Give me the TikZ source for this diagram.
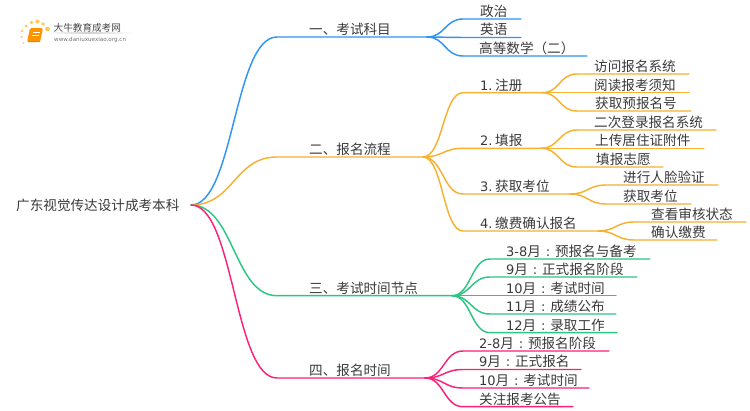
\documentclass[tikz,border=0pt]{standalone}
\usepackage{fontspec}
\setmainfont{Noto Sans CJK SC}
\newfontfamily\latf{DejaVu Sans}
\usetikzlibrary{calc}
\definecolor{cblue}{HTML}{2E94F5}
\definecolor{corange}{HTML}{F8B02F}
\definecolor{cgreen}{HTML}{2CC585}
\definecolor{cpink}{HTML}{FB2079}
\definecolor{ctext}{HTML}{3A3A3A}
\definecolor{cdot}{HTML}{FBCB5A}
\tikzset{
  label text/.style={anchor=base west,inner sep=0pt,text=ctext,font=\fontsize{13.6}{15}\selectfont},
  branch/.style={line width=1.45pt,line cap=round},
  logodot/.style={fill=cdot,draw=none,circle},
}
\newcommand\lat[1]{{\latf\fontsize{13}{15}\selectfont #1}}
\newcommand\num[1]{\lat{#1.}\hspace{2.6pt}}
\newcommand\fc{\makebox[14pt]{\lat{:}}}
% name, line start x, line end x, line y, text x, text
\newcommand\topic[6]{%
  \coordinate (#1-s) at (#2,#4);
  \coordinate (#1-e) at (#3,#4);
  \node[label text] (#1) at (#5,#4-2.6) {#6};
}
% colour, from, to, control offset
\newcommand\link[4]{%
  \draw[branch,#1] (#2-e) .. controls +(#4,0) and ($(#3-s)+(-#4,0)$) .. (#3-s) -- (#3-e);
}
\begin{document}
\begin{tikzpicture}[x=1pt,y=-1pt]
\useasboundingbox (0,0) rectangle (750,410);
\fill[white] (0,0) rectangle (750,410);

% logo
\foreach \a/\b/\r in {23.5/43/0.9,21.5/37/1.1,22/31/1.3,26/26/1.6,31.5/22.5/1.9,37.5/21.5/2.0,43/24/1.9,47.5/29/2.4}{
  \node[logodot,minimum size=\r*2pt,inner sep=0pt] at (\a,\b) {};
}
\fill[orange!85!yellow,rounded corners=1.5pt] (30,28) -- (43,28) -- (40,42) -- (27,42) -- cycle;
\draw[white,line width=.5pt] (33,32) -- (40,32) (32,35) -- (39,35);
\draw[orange!70!brown,line width=.6pt] (28,41) -- (40,41);
\shade[left color=white,right color=white,middle color=black!18] (45,32.8) rectangle (133,33.4);
\node[anchor=base west,inner sep=0pt,text=black!72,font=\fontsize{9.6}{11}\selectfont] (logoa) at (53.5,31) {大牛教育成考网};
\node[anchor=base west,inner sep=0pt,text=black!55,font=\latf\fontsize{5.6}{7}\selectfont] (logob) at (54,41) {www.daniuxuexiao.org.cn};

% root
\node[label text] (root) at (16,210) {广东视觉传达设计成考本科};
\coordinate (root-e) at (191,205);

% level 1
\topic{a}{277}{427}{37}{309}{一、考试科目}
\topic{b}{277}{423}{157}{309}{二、报名流程}
\topic{c}{277}{452}{295.7}{309}{三、考试时间节点}
\topic{d}{277}{425}{378}{309}{四、报名时间}
\link{cblue}{root}{a}{43}
\link{corange}{root}{b}{43}
\link{cgreen}{root}{c}{43}
\link{cpink}{root}{d}{43}

% blue
\topic{a1}{463}{521}{19}{480}{政治}
\topic{a2}{463}{521}{37.5}{480}{英语}
\topic{a3}{463}{587}{56}{479}{高等数学（二）}
\foreach \n in {a1,a2,a3}{\link{cblue}{a}{\n}{18}}

% orange level 2
\topic{b1}{463}{542}{92.7}{480}{\num{1}注册}
\topic{b2}{463}{541}{148.3}{480}{\num{2}填报}
\topic{b3}{463}{570}{194}{480}{\num{3}获取考位}
\topic{b4}{463}{598}{231}{480}{\num{4}缴费确认报名}
\foreach \n in {b1,b2,b3,b4}{\link{corange}{b}{\n}{20}}

\topic{b11}{577}{689}{74}{594}{访问报名系统}
\topic{b12}{577}{689}{92.7}{594}{阅读报考须知}
\topic{b13}{577}{691}{111}{595}{获取预报名号}
\foreach \n in {b11,b12,b13}{\link{corange}{b1}{\n}{18}}

\topic{b21}{577}{716}{130}{594}{二次登录报名系统}
\topic{b22}{577}{704}{148.3}{595}{上传居住证附件}
\topic{b23}{577}{663}{167}{596}{填报志愿}
\foreach \n in {b21,b22,b23}{\link{corange}{b2}{\n}{18}}

\topic{b31}{606}{718}{185}{623}{进行人脸验证}
\topic{b32}{606}{691}{204}{623}{获取考位}
\foreach \n in {b31,b32}{\link{corange}{b3}{\n}{18}}

\topic{b41}{634}{746}{222}{651}{查看审核状态}
\topic{b42}{634}{717}{240}{651}{确认缴费}
\foreach \n in {b41,b42}{\link{corange}{b4}{\n}{18}}

% green
\topic{c1}{490}{650}{259}{506}{\lat{3-8}月\fc 预报名与备考}
\topic{c2}{490}{637}{277}{506}{\lat{9}月\fc 正式报名阶段}
\topic{c3}{490}{616}{295.7}{506}{\lat{10}月\fc 考试时间}
\topic{c4}{490}{616}{314}{506}{\lat{11}月\fc 成绩公布}
\topic{c5}{490}{617}{332.7}{506}{\lat{12}月\fc 录取工作}
\foreach \n in {c1,c2,c3,c4,c5}{\link{cgreen}{c}{\n}{19}}

% pink
\topic{d1}{463}{609}{351}{479}{\lat{2-8}月\fc 预报名阶段}
\topic{d2}{463}{581}{369.5}{479}{\lat{9}月\fc 正式报名}
\topic{d3}{463}{589}{388}{479}{\lat{10}月\fc 考试时间}
\topic{d4}{463}{573}{406.7}{479}{关注报考公告}
\foreach \n in {d1,d2,d3,d4}{\link{cpink}{d}{\n}{19}}
\end{tikzpicture}
\end{document}
